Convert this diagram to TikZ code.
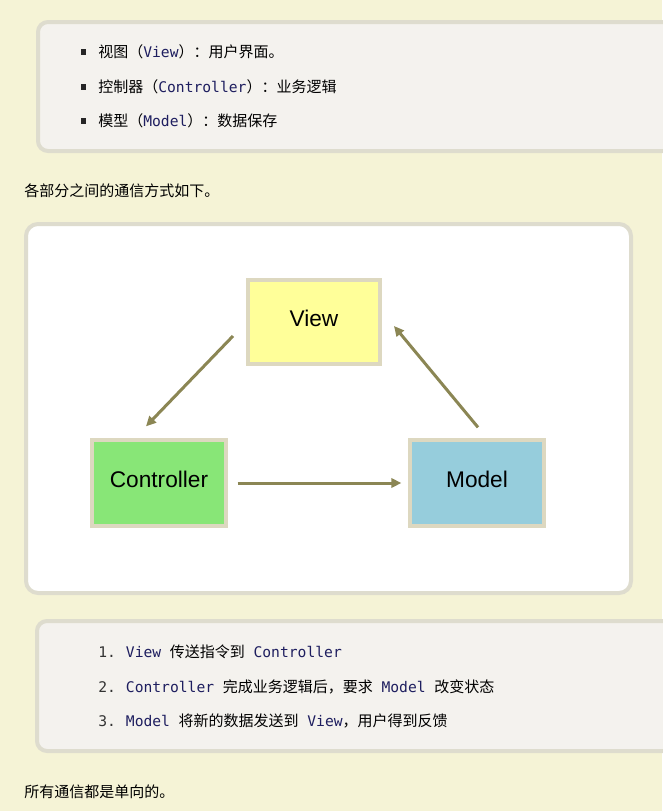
\documentclass[tikz,border=0pt]{standalone}
\usepackage{fontspec}
\setmainfont{Liberation Sans}
\newfontfamily\cjk{Noto Sans CJK SC}
\newfontfamily\codefont{DejaVu Sans Mono}
\usepackage{xcolor}
\usetikzlibrary{positioning,arrows.meta}
\definecolor{pagebg}{RGB}{245,243,214}
\definecolor{panelbg}{RGB}{244,242,238}
\definecolor{panelrule}{RGB}{222,220,206}
\definecolor{boxrule}{RGB}{221,216,192}
\definecolor{viewfill}{RGB}{255,255,153}
\definecolor{ctrlfill}{RGB}{136,230,119}
\definecolor{modelfill}{RGB}{150,205,220}
\definecolor{flowcol}{RGB}{139,134,84}
\definecolor{codecol}{RGB}{30,30,95}
\newcommand{\cd}[1]{{\codefont\fontsize{11pt}{13pt}\selectfont\color{codecol}#1}}
\newcommand{\gap}{\hspace{6.5pt}}
\tikzset{
  panel/.style={draw=panelrule, line width=3pt, fill=panelbg, rounded corners=7.5pt},
  mvcbox/.style={draw=boxrule, line width=3pt, minimum width=100pt, minimum height=64pt,
    inner sep=0pt, text depth=6pt, font=\fontsize{17pt}{20pt}\selectfont},
  flow/.style={draw=flowcol, line width=2.25pt, -{Triangle[length=7.5pt,width=7pt]}},
  txt/.style={anchor=west, inner sep=0pt, font=\cjk\fontsize{11.25pt}{14pt}\selectfont},
  bullet/.style={fill=black!85, inner sep=0pt, minimum size=4pt}
}
\begin{document}
\begin{tikzpicture}[x=0.75pt,y=0.75pt,yscale=-1,xscale=1]
\useasboundingbox[fill=pagebg] (0,0) rectangle (662,811);

%Shape: Rectangle (top panel)
\draw [panel] (38,22) rectangle (700,151);
% Text Node
\node [bullet] (b1) at (83.5,52) {};
\node [txt] (item1) at (98,52) {视图（\cd{View}）：用户界面。};
\node [bullet] (b2) at (83.5,87) {};
\node [txt] (item2) at (98,87) {控制器（\cd{Controller}）：业务逻辑};
\node [bullet] (b3) at (83.5,121) {};
\node [txt] (item3) at (98,121) {模型（\cd{Model}）：数据保存};

% Text Node
\node [txt] (intro) at (24,191) {各部分之间的通信方式如下。};

%Shape: Rectangle (diagram panel)
\draw [panel, fill=white, rounded corners=9pt] (26,224) rectangle (631,593);

% MVC boxes
\node [mvcbox, fill=viewfill, minimum width=99pt, minimum height=63pt] (view) at (314,322) {View};
\node [mvcbox, fill=ctrlfill] (ctrl) at (159,483) {Controller};
\node [mvcbox, fill=modelfill] (model) at (477,483) {Model};

% Arrows
\draw [flow] ([shift={(-13,14)}]view.west) -- ([shift={(-13,-12)}]ctrl.north);
\draw [flow] ([shift={(10,0)}]ctrl.east) -- ([shift={(-7,0)}]model.west);
\draw [flow] ([shift={(1,-11)}]model.north) -- ([shift={(12,4)}]view.east);

%Shape: Rectangle (bottom panel)
\draw [panel] (37,621) rectangle (700,751);
% Text Node
\node [txt] (step1) at (98,652) {\cd{\color{black!80}1.}\hspace{7.5pt}\cd{View}\gap 传送指令到\gap\cd{Controller}};
\node [txt] (step2) at (98,687) {\cd{\color{black!80}2.}\hspace{7.5pt}\cd{Controller}\gap 完成业务逻辑后，要求\gap\cd{Model}\gap 改变状态};
\node [txt] (step3) at (98,721) {\cd{\color{black!80}3.}\hspace{7.5pt}\cd{Model}\gap 将新的数据发送到\gap\cd{View}，用户得到反馈};

% Text Node
\node [txt] (outro) at (24,792) {所有通信都是单向的。};

\end{tikzpicture}
\end{document}
